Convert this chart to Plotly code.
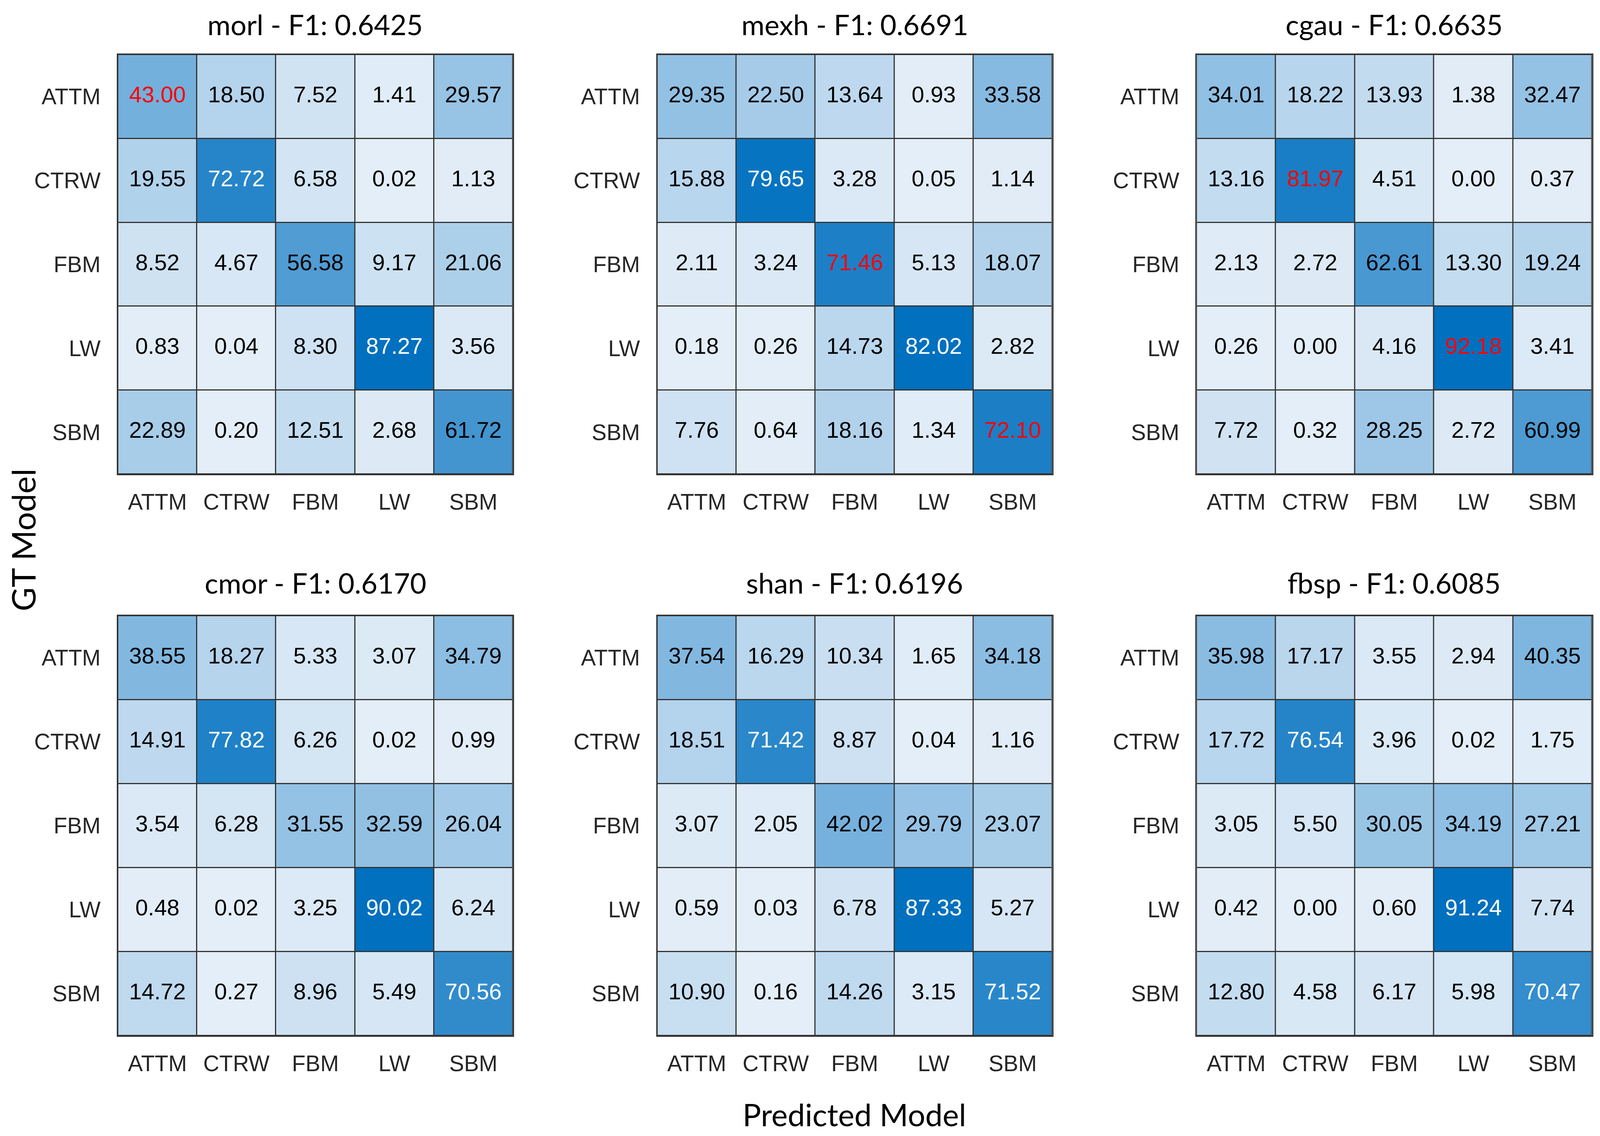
import plotly.graph_objects as go

# ---------------- data ----------------
classes = ["ATTM", "CTRW", "FBM", "LW", "SBM"]
wavelets = ["morl", "mexh", "cgau", "cmor", "shan", "fbsp"]
f1_scores = [0.6425, 0.6691, 0.6635, 0.6170, 0.6196, 0.6085]

cm_morl = [[43.00, 18.50, 7.52, 1.41, 29.57],
           [19.55, 72.72, 6.58, 0.02, 1.13],
           [8.52, 4.67, 56.58, 9.17, 21.06],
           [0.83, 0.04, 8.30, 87.27, 3.56],
           [22.89, 0.20, 12.51, 2.68, 61.72]]
cm_mexh = [[29.35, 22.50, 13.64, 0.93, 33.58],
           [15.88, 79.65, 3.28, 0.05, 1.14],
           [2.11, 3.24, 71.46, 5.13, 18.07],
           [0.18, 0.26, 14.73, 82.02, 2.82],
           [7.76, 0.64, 18.16, 1.34, 72.10]]
cm_cgau = [[34.01, 18.22, 13.93, 1.38, 32.47],
           [13.16, 81.97, 4.51, 0.00, 0.37],
           [2.13, 2.72, 62.61, 13.30, 19.24],
           [0.26, 0.00, 4.16, 92.18, 3.41],
           [7.72, 0.32, 28.25, 2.72, 60.99]]
cm_cmor = [[38.55, 18.27, 5.33, 3.07, 34.79],
           [14.91, 77.82, 6.26, 0.02, 0.99],
           [3.54, 6.28, 31.55, 32.59, 26.04],
           [0.48, 0.02, 3.25, 90.02, 6.24],
           [14.72, 0.27, 8.96, 5.49, 70.56]]
cm_shan = [[37.54, 16.29, 10.34, 1.65, 34.18],
           [18.51, 71.42, 8.87, 0.04, 1.16],
           [3.07, 2.05, 42.02, 29.79, 23.07],
           [0.59, 0.03, 6.78, 87.33, 5.27],
           [10.90, 0.16, 14.26, 3.15, 71.52]]
cm_fbsp = [[35.98, 17.17, 3.55, 2.94, 40.35],
           [17.72, 76.54, 3.96, 0.02, 1.75],
           [3.05, 5.50, 30.05, 34.19, 27.21],
           [0.42, 0.00, 0.60, 91.24, 7.74],
           [12.80, 4.58, 6.17, 5.98, 70.47]]
matrices = [cm_morl, cm_mexh, cm_cgau, cm_cmor, cm_shan, cm_fbsp]

# cells whose value is written in red (gt, predicted)
red_cells = {
    "morl": [("ATTM", "ATTM")],
    "mexh": [("FBM", "FBM"), ("SBM", "SBM")],
    "cgau": [("CTRW", "CTRW"), ("LW", "LW")],
}

# ---------------- layout ----------------
# The browser viewport is 4096 px wide, so the figure is laid out to fill it.
W, H = 4096, 2909
col_frac = [(0.0737, 0.3205), (0.4108, 0.6576), (0.7479, 0.9950)]
row_px = [(140, 1214), (1577, 2652)]
title_y_px = [62, 1492]

colorscale = [[0.0, "#e4eef8"], [1.0, "#0070bf"]]
tick_font = dict(family="Liberation Sans, Arial, sans-serif", size=57, color="#262626")
cell_font_family = "Liberation Sans, Arial, sans-serif"
title_family = "Lato, Noto Sans, sans-serif"

fig = go.Figure()
annotations = []

for i, (name, f1, cm) in enumerate(zip(wavelets, f1_scores, matrices)):
    r, c = divmod(i, 3)
    k = "" if i == 0 else str(i + 1)
    flat = [v for row in cm for v in row]
    zmin, zmax = min(flat), max(flat)

    fig.add_trace(go.Heatmap(
        z=cm, x=classes, y=classes, zmin=zmin, zmax=zmax,
        colorscale=colorscale, showscale=False, xgap=3, ygap=3,
        hoverinfo="skip", xaxis="x" + k, yaxis="y" + k))

    xs, ys, texts, colors = [], [], [], []
    reds = red_cells.get(name, [])
    for gi, gt in enumerate(classes):
        for pj, pr in enumerate(classes):
            v = cm[gi][pj]
            xs.append(pr)
            ys.append(gt)
            texts.append(f"{v:.2f}")
            if (gt, pr) in reds:
                colors.append("#ff0000")
            elif v / zmax > 0.75:
                colors.append("#ffffff")
            else:
                colors.append("#000000")
    fig.add_trace(go.Scatter(
        x=xs, y=ys, text=texts, mode="text",
        textfont=dict(family=cell_font_family, size=58, color=colors),
        textposition="middle center", hoverinfo="skip", showlegend=False,
        xaxis="x" + k, yaxis="y" + k))

    fx0, fx1 = col_frac[c]
    y0, y1 = row_px[r]
    axis_common = dict(showgrid=False, zeroline=False, showline=True, mirror=True,
                       linecolor="#333333", linewidth=3, tickfont=tick_font,
                       type="category", ticks="")
    fig.layout["xaxis" + k] = dict(axis_common, domain=[fx0, fx1],
                                   range=[-0.5, 4.5], anchor="y" + k,
                                   ticklabelstandoff=20)
    fig.layout["yaxis" + k] = dict(axis_common, domain=[1 - y1 / H, 1 - y0 / H],
                                   range=[4.5, -0.5], anchor="x" + k,
                                   ticklabelstandoff=30)

    annotations.append(dict(
        text=f"{name} - F1: {f1:.4f}", x=(fx0 + fx1) / 2, y=1 - title_y_px[r] / H,
        xref="paper", yref="paper", xanchor="center", yanchor="middle",
        showarrow=False, font=dict(family=title_family, size=72, color="#000000")))

annotations.append(dict(text="GT Model", x=0.0142, y=1 - 1383 / H, xref="paper", yref="paper",
                        xanchor="center", yanchor="middle", textangle=-90, showarrow=False,
                        font=dict(family=title_family, size=84, color="#000000")))
annotations.append(dict(text="Predicted Model", x=0.534, y=1 - 2853 / H, xref="paper",
                        yref="paper", xanchor="center", yanchor="middle", showarrow=False,
                        font=dict(family=title_family, size=79, color="#000000")))

fig.update_layout(width=W, height=H, margin=dict(l=0, r=0, t=0, b=0),
                  paper_bgcolor="#ffffff", plot_bgcolor="#333333",
                  showlegend=False, annotations=annotations)

post = ("document.body.style.margin='0';"
        "document.body.style.overflow='hidden';"
        "document.documentElement.style.overflow='hidden';")
fig.write_html("out.html", post_script=post, config={"displayModeBar": False})
